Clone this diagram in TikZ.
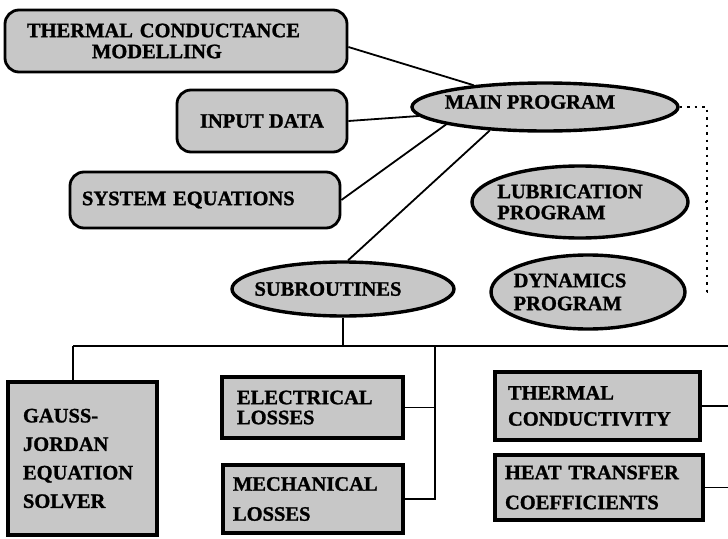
\documentclass[tikz,border=0pt]{standalone}
\usepackage{fontspec}
\newfontfamily\hb{Liberation Serif}[BoldFeatures={FakeBold=1.2}]
\usetikzlibrary{shapes.geometric}
\newcommand{\fs}[1]{\hb\bfseries\fontsize{20.5}{#1}\selectfont}
\begin{document}
\begin{tikzpicture}[x=1pt,y=-1pt,
  every node/.style={font=\fs{21}},
  rbox/.style={draw, line width=2.8pt, fill=black!22, rounded corners=14pt, inner sep=0pt},
  sbox/.style={draw, line width=3.2pt, fill=black!22, inner sep=0pt},
  ell/.style={draw, ellipse, line width=3.4pt, fill=black!22, inner sep=0pt},
  lbl/.style={align=left, inner sep=0pt, fill=none, draw=none},
  conn/.style={line width=1.8pt},
  dots/.style={line width=2pt, dash pattern=on 2.5pt off 5pt},
]
\useasboundingbox (0,0) rectangle (728,538);

% top left boxes
\node[rbox, minimum width=342pt, minimum height=62pt, text width=298pt, align=left] (tcm) at (176,41)
  {THERMAL CONDUCTANCE\\\hspace*{65pt}MODELLING};
\node[rbox, minimum width=170pt, minimum height=62pt] (inp) at (262,121) {INPUT DATA};
\node[rbox, minimum width=270pt, minimum height=56pt, text width=246pt, align=left] (sys) at (205,200) {SYSTEM EQUATIONS};

% ellipses
\node[ell, minimum width=266pt, minimum height=48pt,
  label={[lbl, name=mainl, xshift=-15pt, yshift=5pt]center:MAIN PROGRAM}] (main) at (545,107) {};
\node[ell, minimum width=216pt, minimum height=72pt,
  label={[lbl, name=lubl, xshift=-10pt, font=\fs{21}]center:LUBRICATION\\PROGRAM}] (lub) at (580,202) {};
\node[ell, minimum width=194pt, minimum height=74pt,
  label={[lbl, name=dynl, xshift=-18pt, font=\fs{23}]center:DYNAMICS\\PROGRAM}] (dyn) at (588,292) {};
\node[ell, minimum width=222pt, minimum height=54pt,
  label={[lbl, name=subl, xshift=-15pt]center:SUBROUTINES}] (sub) at (343,289) {};

% bottom boxes
\node[sbox, minimum width=149pt, minimum height=153pt, text width=119pt, align=left, font=\fs{28.5}] (gauss) at (82.5,458.5)
  {GAUSS-\\JORDAN\\EQUATION\\SOLVER};
\node[sbox, minimum width=181pt, minimum height=61pt, text width=151pt, align=left, font=\fs{20}] (elec) at (312.5,407.5)
  {ELECTRICAL\\LOSSES};
\node[sbox, minimum width=180pt, minimum height=68pt, text width=160pt, align=left, font=\fs{30}] (mech) at (313,499)
  {MECHANICAL\\LOSSES};
\node[sbox, minimum width=205pt, minimum height=68pt, text width=179pt, align=left, font=\fs{26}] (tc) at (597.5,406)
  {THERMAL\\CONDUCTIVITY};
\node[sbox, minimum width=208pt, minimum height=65pt, text width=188pt, align=left, font=\fs{30}] (ht) at (599,487.5)
  {HEAT TRANSFER\\COEFFICIENTS};

% connectors to main program
\draw[conn] ([yshift=-6pt]tcm.east) -- (main);
\draw[conn] (inp.east) -- (main);
\draw[conn] (sys.east) -- (main.190);
\draw[conn] (sub.80) -- (main.203);

% dotted links
\coordinate (dtop) at (707,103);
\draw[dots] (main.east) -- (main.east -| dtop) -- (dtop |- dyn.east) -- ([xshift=16pt]dyn.east);
\draw[dots] (dtop |- lub.east) -- ([xshift=12pt]lub.east);

% tree
\coordinate (hl) at (73,346);
\coordinate (hr) at (728,346);
\coordinate (bx) at (435,346);
\draw[conn] (hl) -- (hr);
\draw[conn] (sub.south) -- (sub.south |- hl);
\draw[conn] (hl) -- (hl |- gauss.north);
\draw[conn] (bx) |- (mech.east);
\draw[conn] (elec.east) -- (elec.east -| bx);
\draw[conn] (tc.east) -- (tc.east -| hr);
\draw[conn] (ht.east) -- (ht.east -| hr);
\end{tikzpicture}
\end{document}
